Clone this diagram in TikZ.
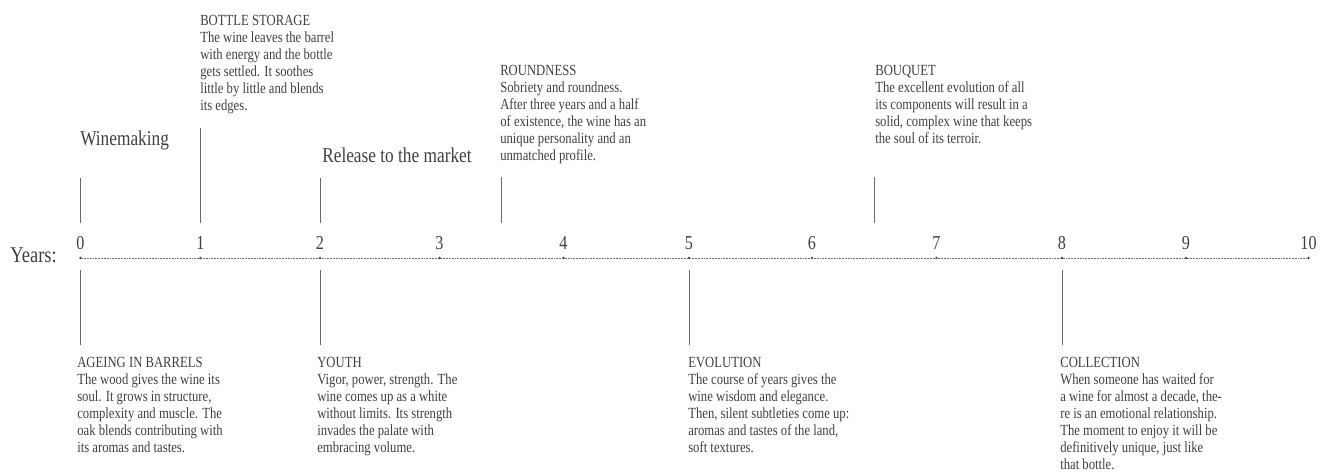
\documentclass[tikz,border=0pt]{standalone}
\usepackage{fontspec}
\setmainfont{Liberation Serif}[FakeStretch=0.82]
\usetikzlibrary{calc}
\definecolor{inkgray}{HTML}{404040}
\definecolor{rulegray}{HTML}{6A6A6A}
\begin{document}
\begin{tikzpicture}[x=0.025cm,y=-0.025cm,
	note/.style={anchor=north west,align=left,inner sep=0pt,text=inkgray,font=\fontsize{11}{12.1}\selectfont},
	stage/.style={anchor=base west,inner sep=0pt,text=inkgray,font=\fontsize{15}{18}\selectfont},
	yearlabel/.style={anchor=base,inner sep=0pt,text=inkgray,font=\fontsize{14}{16}\selectfont},
	tickdot/.style={circle,fill=inkgray,inner sep=0pt,minimum size=2pt},
	pin/.style={draw=rulegray,line width=0.6pt}]
	\useasboundingbox (0,0) rectangle (1321,474);
	% time axis
	\foreach \x [count=\n from 0] in {80.5,200.5,320,439.5,563.5,689,812,936.5,1062,1186,1308.5} {
		\node[tickdot] (t\n) at (\x,258) {};
		\node[yearlabel] (y\n) at (\x,249) {\n};
	}
	\draw[rulegray,line width=0.4pt,dash pattern=on 0.4pt off 0.7pt] (t0) -- (t10);
	\node[anchor=base east,inner sep=0pt,text=inkgray,font=\fontsize{16}{18}\selectfont] (years) at (57,262) {Years:};
	% marks above the axis
	\coordinate (m35) at ($(t3)!0.5!(t4)$);
	\coordinate (m65) at ($(t6)!0.5!(t7)$);
	\draw[pin] (t0) ++(0,-35) -- ++(0,-45);
	\draw[pin] (t1) ++(0,-35) -- ++(0,-95);
	\draw[pin] (t2) ++(0,-35) -- ++(0,-45);
	\draw[pin] (m35) ++(0,-35) -- ++(0,-46);
	\draw[pin] (m65) ++(0,-35) -- ++(0,-46);
	% marks below the axis
	\foreach \i in {0,2,5,8}
		\draw[pin] (t\i) ++(0,12) -- ++(0,75);
	% stages
	\node[stage] (winemaking) at (80,145) {Winemaking};
	\node[stage] (release) at (322,162) {Release to the market};
	% notes above
	\node[note] (storage) at (200,15) {BOTTLE STORAGE\\The wine leaves the barrel\\with energy and the bottle\\gets settled. It soothes\\little by little and blends\\its edges.};
	\node[note] (roundness) at (500,65) {ROUNDNESS\\Sobriety and roundness.\\After three years and a half\\of existence, the wine has an\\unique personality and an\\unmatched profile.};
	\node[note] (bouquet) at (875,65) {BOUQUET\\The excellent evolution of all\\its components will result in a\\solid, complex wine that keeps\\the soul of its terroir.};
	% notes below
	\node[note] (ageing) at (77,357) {AGEING IN BARRELS\\The wood gives the wine its\\soul. It grows in structure,\\complexity and muscle. The\\oak blends contributing with\\its aromas and tastes.};
	\node[note] (youth) at (317,357) {YOUTH\\Vigor, power, strength. The\\wine comes up as a white\\without limits. Its strength\\invades the palate with\\embracing volume.};
	\node[note] (evolution) at (688,357) {EVOLUTION\\The course of years gives the\\wine wisdom and elegance.\\Then, silent subtleties come up:\\aromas and tastes of the land,\\soft textures.};
	\node[note] (collection) at (1060,357) {COLLECTION\\When someone has waited for\\a wine for almost a decade, the-\\re is an emotional relationship.\\The moment to enjoy it will be\\definitively unique, just like\\that bottle.};
\end{tikzpicture}
\end{document}
